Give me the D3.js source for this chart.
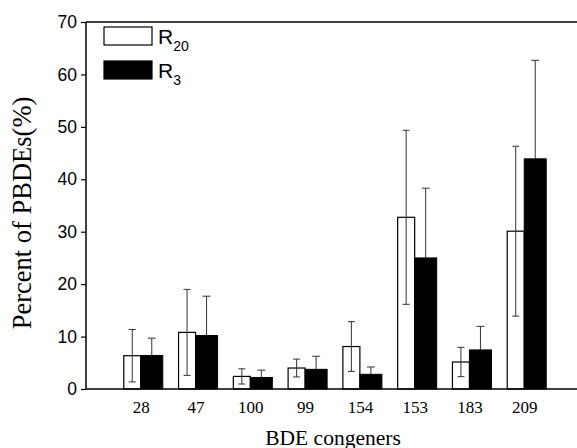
<!DOCTYPE html>
<html><head><meta charset="utf-8">
<script src="https://cdn.jsdelivr.net/npm/d3@7"></script>
<style>body{margin:0;background:#fff;}svg{display:block;}</style>
</head><body>
<svg id="c" width="577" height="448"></svg>
<script>
const categories = ["28","47","100","99","154","153","183","209"];
const r20 = [6.35, 10.8, 2.4, 4.0, 8.1, 32.75, 5.15, 30.1];
const r20Err = [5.0, 8.2, 1.45, 1.7, 4.75, 16.6, 2.8, 16.2];
const r3 = [6.4, 10.2, 2.2, 3.75, 2.8, 25.0, 7.45, 43.9];
const r3Err = [3.3, 7.5, 1.4, 2.5, 1.4, 13.3, 4.5, 18.8];
const yTicks = [0,10,20,30,40,50,60,70];

(function(){
const svg = d3.select("#c");
const mLeft = 86, mRight = 579, mTop = 22, mBottom = 389;
const x = d3.scalePoint().domain(categories).range([mLeft, mRight]).padding(1);
const y = d3.scaleLinear().domain([0,70]).range([mBottom, mTop]);
const wW = 17, bW = 22;

const g = svg.append("g");
categories.forEach((c,i)=>{
  const cx = x(c);
  g.append("rect").attr("x", cx-wW).attr("y", y(r20[i])).attr("width", wW).attr("height", y(0)-y(r20[i]))
    .attr("fill","#fff").attr("stroke","#000").attr("stroke-width",1.2);
  const ex = cx - wW/2;
  g.append("line").attr("x1",ex).attr("x2",ex).attr("y1",y(r20[i]-r20Err[i])).attr("y2",y(r20[i]+r20Err[i])).attr("stroke","#333").attr("stroke-width",1);
  [r20[i]-r20Err[i], r20[i]+r20Err[i]].forEach(v=>{
    g.append("line").attr("x1",ex-3.5).attr("x2",ex+3.5).attr("y1",y(v)).attr("y2",y(v)).attr("stroke","#333").attr("stroke-width",1);
  });
  g.append("rect").attr("x", cx).attr("y", y(r3[i])).attr("width", bW).attr("height", y(0)-y(r3[i]))
    .attr("fill","#000").attr("stroke","#000").attr("stroke-width",1);
  const bx = cx + bW/2;
  g.append("line").attr("x1",bx).attr("x2",bx).attr("y1",y(r3[i])).attr("y2",y(r3[i]+r3Err[i])).attr("stroke","#333").attr("stroke-width",1);
  g.append("line").attr("x1",bx-4).attr("x2",bx+4).attr("y1",y(r3[i]+r3Err[i])).attr("y2",y(r3[i]+r3Err[i])).attr("stroke","#333").attr("stroke-width",1);
});

svg.append("line").attr("x1",mLeft).attr("x2",577).attr("y1",mTop).attr("y2",mTop).attr("stroke","#000").attr("stroke-width",1.5);
svg.append("line").attr("x1",mLeft).attr("x2",577).attr("y1",mBottom).attr("y2",mBottom).attr("stroke","#000").attr("stroke-width",1.5);

const ya = svg.append("g").attr("transform",`translate(${mLeft},0)`)
  .call(d3.axisLeft(y).tickValues(yTicks).tickSize(5).tickPadding(4).tickFormat(d3.format("d")));
ya.select(".domain").attr("stroke","#000").attr("stroke-width",1.5).attr("d",`M0,${mTop}V${mBottom}`);
ya.selectAll(".tick line").attr("stroke","#000").attr("stroke-width",1.2);
ya.selectAll(".tick text").attr("font-family","Liberation Sans, Arial, sans-serif").attr("font-size",17.5).attr("fill","#000");

const xa = svg.append("g").attr("transform",`translate(0,${mBottom})`)
  .call(d3.axisBottom(x).tickSize(0).tickPadding(12));
xa.select(".domain").remove();
xa.selectAll(".tick text").attr("font-family","Liberation Serif, Times New Roman, serif").attr("font-size",17).attr("fill","#000");

svg.append("text").attr("x",333).attr("y",445).attr("text-anchor","middle")
  .attr("font-family","Liberation Serif, Times New Roman, serif").attr("font-size",21.5).text("BDE congeners");
svg.append("text").attr("transform","translate(31,213) rotate(-90)").attr("text-anchor","middle")
  .attr("font-family","Liberation Serif, Times New Roman, serif").attr("font-size",26.5).text("Percent of PBDEs(%)");

const legend = [{name:"R",sub:"20",fill:"#fff"},{name:"R",sub:"3",fill:"#000"}];
legend.forEach((d,i)=>{
  const ly = 27 + i*34;
  svg.append("rect").attr("x",104).attr("y",ly).attr("width",48).attr("height",18)
    .attr("fill",d.fill).attr("stroke","#000").attr("stroke-width",1.2);
  const t = svg.append("text").attr("x",158).attr("y",ly+17)
    .attr("font-family","Liberation Sans, Arial, sans-serif").attr("font-size",21).attr("fill","#000");
  t.append("tspan").text(d.name);
  t.append("tspan").attr("dy",7).attr("font-size",14).text(d.sub);
});
})();
</script>
</body></html>
